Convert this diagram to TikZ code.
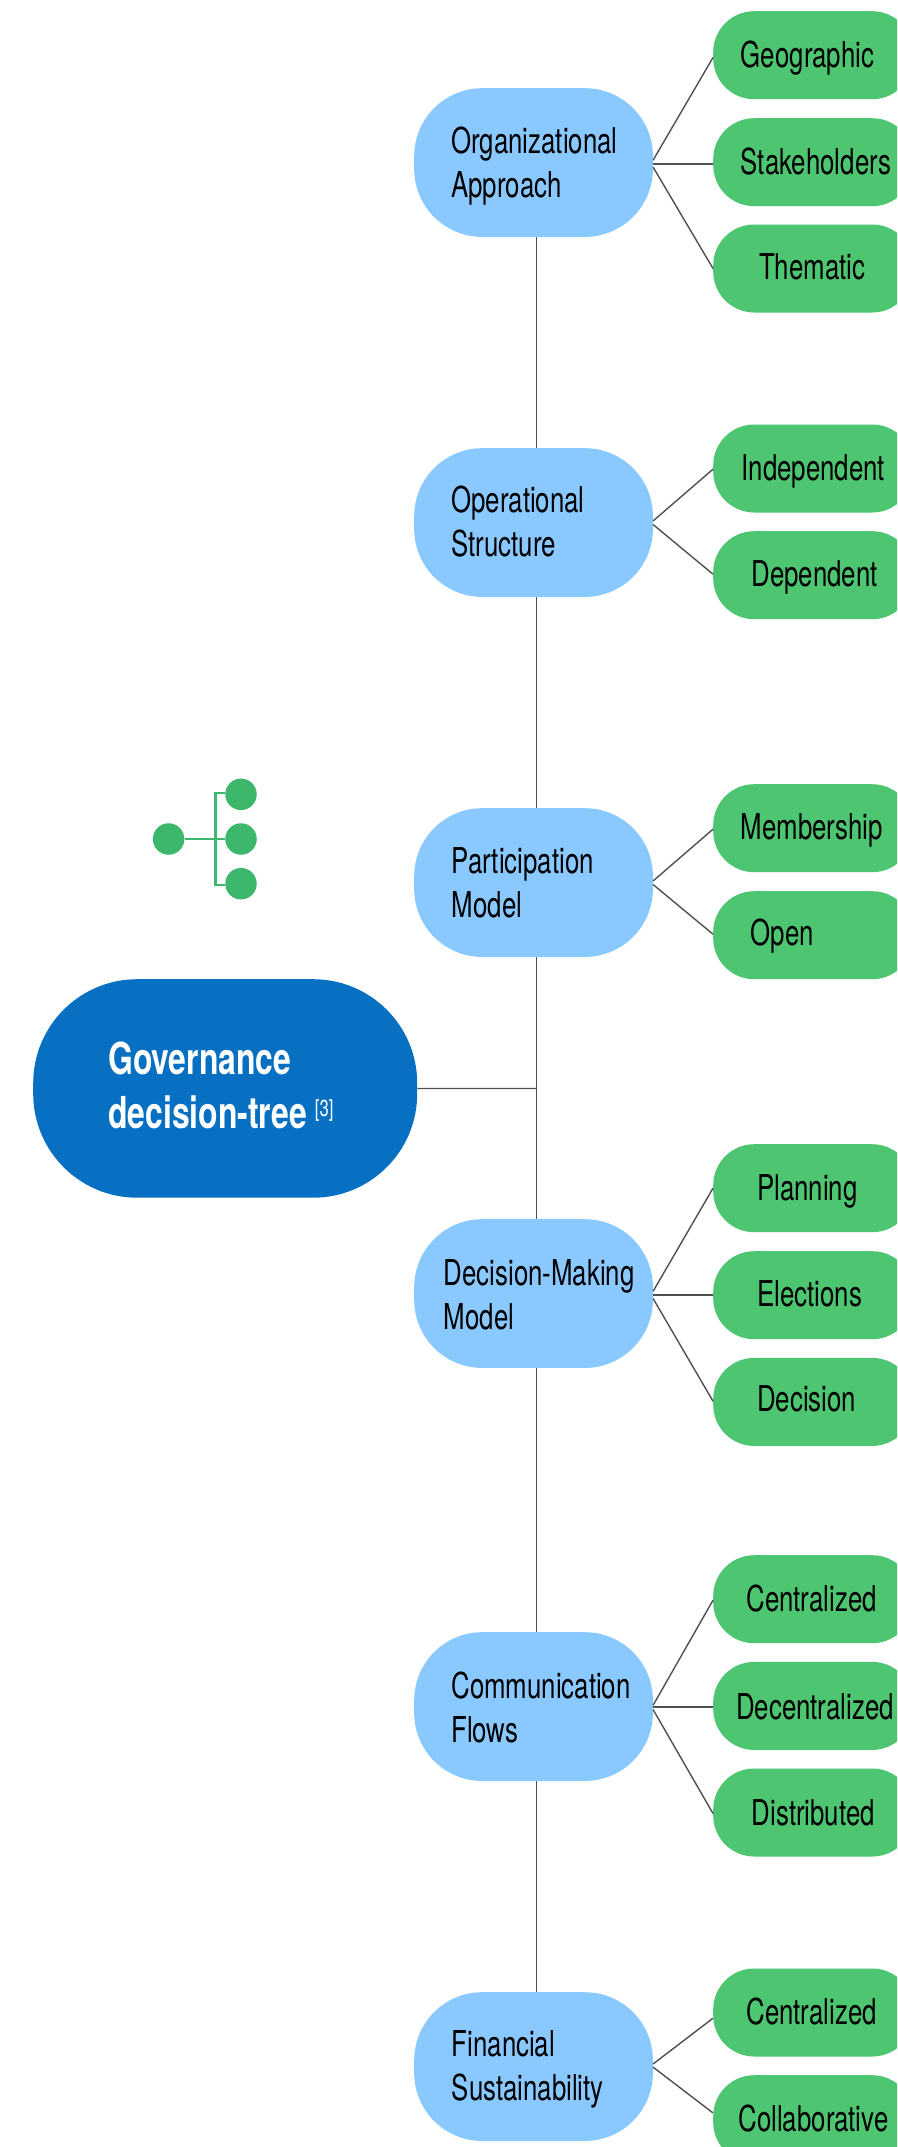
\documentclass[tikz,border=0pt]{standalone}
\usepackage{fontspec}
\setmainfont[FakeStretch=0.725]{TeX Gyre Heros}
\definecolor{rootblue}{HTML}{0870C2}
\definecolor{branchblue}{HTML}{8AC9FF}
\definecolor{leafgreen}{HTML}{4EC570}
\definecolor{icongreen}{HTML}{3CB76C}
\definecolor{linkgrey}{HTML}{505050}
\tikzset{
  rootbox/.style={draw=none,fill=rootblue,rounded corners=104pt,anchor=north west,inner xsep=0pt,inner ysep=0pt,
    minimum width=384pt,minimum height=218.5pt,text width=384pt,align=left,text=white,
    font=\fontsize{44}{54}\selectfont\bfseries,text height=40pt,text depth=67pt},
  branchbox/.style={draw=none,fill=branchblue,rounded corners=68pt,anchor=north west,inner xsep=0pt,inner ysep=0pt,
    minimum width=238.7pt,minimum height=148.7pt,text width=238.7pt,align=left,text=black,
    font=\fontsize{35.6}{44}\selectfont,text height=31pt},
  leafbox/.style={draw=none,fill=leafgreen,rounded corners=41pt,anchor=north west,inner xsep=0pt,inner ysep=0pt,
    minimum width=200pt,minimum height=88pt,text width=200pt,align=left,text=black,
    font=\fontsize{35.6}{44}\selectfont,text height=31pt,text depth=8pt},
  link/.style={draw=linkgrey,line width=1.4pt},
  icondot/.style={circle,fill=icongreen,draw=none,minimum size=31.5pt,inner sep=0pt},
  iconlink/.style={draw=icongreen,line width=2.6pt}
}
\newcommand{\branchnode}[6]{\node[branchbox,text depth=#4pt] (#1) at (414,#2) {\hspace*{#3pt}#5\\\hspace*{#3pt}#6};}
\newcommand{\leafnode}[5]{\node[leafbox] (#1) at (713,#2) {\hspace*{#3pt}\raisebox{#4pt}{#5}};}
\newcommand{\linkit}[4]{\draw[link] ([yshift=#2pt]#1.east) -- ([yshift=#4pt]#3.west);}
\begin{document}
\begin{tikzpicture}[x=1pt,y=-1pt]
\path[use as bounding box,clip] (0,0) rectangle (897,2147);
\fill[white] (0,0) rectangle (897,2147);
% root
\node[rootbox] (root) at (33,979) {\hspace*{75pt}Governance\\\hspace*{75pt}decision-tree\hspace*{8pt}\raisebox{12.4pt}{\fontsize{23}{23}\selectfont\mdseries [3]}};
% branches
\branchnode{org}{88}{37.2}{48.4}{Organizational}{Approach}
\branchnode{ops}{448}{37.2}{51.2}{Operational}{Structure}
\branchnode{par}{808}{37.6}{50}{Participation}{Model}
\branchnode{dec}{1219}{29.6}{46.6}{Decision-Making}{Model}
\branchnode{com}{1632}{37.2}{48}{Communication}{Flows}
\branchnode{fin}{1992}{37.6}{52}{Financial}{Sustainability}
% leaves
\leafnode{geo}{11}{27.7}{-0.7}{Geographic}
\leafnode{sta}{118}{27.7}{-1}{Stakeholders}
\leafnode{the}{224.3}{46}{1}{Thematic}
\leafnode{ind}{424.3}{28.4}{0}{Independent}
\leafnode{dep}{531}{38.4}{0}{Dependent}
\leafnode{mem}{784}{27.7}{0.7}{Membership}
\leafnode{ope}{891}{37.7}{1}{Open}
\leafnode{pla}{1144}{44}{-0.3}{Planning}
\leafnode{ele}{1251}{44}{0}{Elections}
\leafnode{dcs}{1357.7}{44}{2}{Decision}
\leafnode{cen}{1555}{33.2}{-1}{Centralized}
\leafnode{dce}{1661.7}{23}{-1.6}{Decentralized}
\leafnode{dis}{1768.3}{38.7}{-1}{Distributed}
\leafnode{cea}{1968.3}{33.2}{-0.4}{Centralized}
\leafnode{col}{2075}{25.3}{-0.3}{Collaborative}
% spine
\coordinate (junction) at (536,1088.5);
\draw[link] ([xshift=2.65pt]org.south) -- ([xshift=2.65pt]ops.north);
\draw[link] ([xshift=2.65pt]ops.south) -- ([xshift=2.65pt]par.north);
\draw[link] ([xshift=2.65pt]par.south) -- ([xshift=2.65pt]dec.north);
\draw[link] ([xshift=2.65pt]dec.south) -- ([xshift=2.65pt]com.north);
\draw[link] ([xshift=2.65pt]com.south) -- ([xshift=2.65pt]fin.north);
\draw[link] (root.east) -- (junction);
% leaf links
\linkit{org}{2.4}{geo}{-2.3}
\linkit{org}{-1.3}{sta}{-1.65}
\linkit{org}{-4.6}{the}{0}
\linkit{ops}{1.6}{ind}{-0.7}
\linkit{ops}{-2}{dep}{1}
\linkit{par}{1.6}{mem}{-1}
\linkit{par}{-2}{ope}{1}
\linkit{dec}{2.3}{pla}{0}
\linkit{dec}{-1.3}{ele}{0.35}
\linkit{dec}{-5}{dcs}{0.7}
\linkit{com}{1.3}{cen}{-1}
\linkit{com}{-0.3}{dce}{-0.95}
\linkit{com}{-3}{dis}{-1}
\linkit{fin}{2.6}{cea}{-5.7}
\linkit{fin}{-0.6}{col}{6.3}
% icon
\node[icondot] (dotroot) at (168.6,839) {};
\node[icondot] (dotup) at (241,794.3) {};
\node[icondot] (dotmid) at (241,839) {};
\node[icondot] (dotlow) at (241,883.7) {};
\coordinate (iconjoin) at (215.4,839);
\draw[iconlink] (dotroot) -- (dotmid);
\draw[iconlink] ([yshift=1.3pt]dotup.west) -| (iconjoin) |- ([yshift=-1.3pt]dotlow.west);
\end{tikzpicture}
\end{document}
